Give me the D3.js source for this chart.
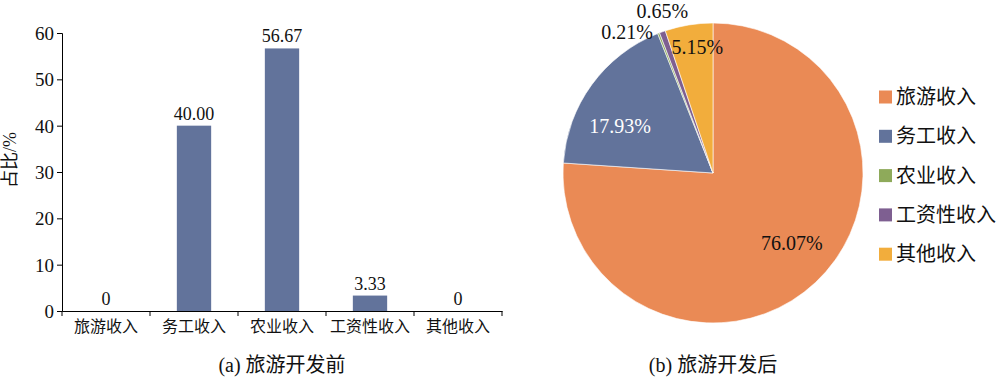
<!DOCTYPE html>
<html>
<head>
<meta charset="utf-8">
<title>旅游开发前后收入结构</title>
<script src="https://cdn.jsdelivr.net/npm/d3@7"></script>
<style>
  body { margin: 0; background: #fff; }
  svg text { font-family: "Liberation Serif", "Noto Sans CJK SC", serif; fill: #111; }
  .cjk { font-family: "Liberation Serif", "Noto Sans CJK SC", sans-serif; }
</style>
</head>
<body>
<div id="chart"></div>
<script>
// categories
var categories = ["旅游收入", "务工收入", "农业收入", "工资性收入", "其他收入"];
// (a) before tourism, %
var beforeValues = [0, 40.00, 56.67, 3.33, 0];
var beforeLabels = ["0", "40.00", "56.67", "3.33", "0"];
// (b) after tourism, %
var afterValues = [76.07, 17.93, 0.21, 0.65, 5.15];
var afterLabels = ["76.07%", "17.93%", "0.21%", "0.65%", "5.15%"];
var yTicks = [0, 10, 20, 30, 40, 50, 60];

var colors = ["#ea8a55", "#62739b", "#8eaa5a", "#7e5f91", "#f2ad3c"];

var w = 1000, h = 377;
var svg = d3.select("#chart").append("svg")
  .attr("width", w).attr("height", h);

// ---- bar chart ----
var x = d3.scaleBand().domain(categories).range([62, 502]).paddingInner(0.61).paddingOuter(0.305);
var xAxisScale = d3.scaleBand().domain(categories).range([62, 502]);
var y = d3.scaleLinear().domain([0, 60]).range([311, 33]);

svg.selectAll(".bar")
  .data(beforeValues)
  .enter().append("rect")
  .attr("class", "bar")
  .attr("x", function(d, i) { return x(categories[i]); })
  .attr("y", function(d) { return y(d); })
  .attr("width", x.bandwidth())
  .attr("height", function(d) { return y(0) - y(d); })
  .attr("fill", colors[1]);

// y axis
var yAxis = svg.append("g").attr("transform", "translate(62,0)")
  .call(d3.axisLeft(y).tickValues(yTicks).tickSize(5).tickPadding(3));
yAxis.selectAll("text").style("font-size", "19px").attr("dy", "0.35em");

// x axis
var xAxis = svg.append("g").attr("transform", "translate(0,311)")
  .call(d3.axisBottom(xAxisScale).tickSize(0).tickPadding(10));
xAxis.selectAll(".tick line").remove();
xAxis.selectAll("text").attr("class", "cjk").style("font-size", "16px");
// boundary ticks
xAxis.selectAll(".sep")
  .data(categories.concat(["end"]))
  .enter().append("line")
  .attr("class", "sep")
  .attr("x1", function(d, i) { return i < categories.length ? xAxisScale(d) : xAxisScale.range()[1]; })
  .attr("x2", function(d, i) { return i < categories.length ? xAxisScale(d) : xAxisScale.range()[1]; })
  .attr("y1", 0).attr("y2", 5)
  .attr("stroke", "#000");
svg.selectAll(".domain").attr("stroke", "#000");
svg.selectAll(".tick line").attr("stroke", "#000");

// value labels
svg.selectAll(".vlabel")
  .data(beforeValues)
  .enter().append("text")
  .attr("class", "vlabel")
  .attr("x", function(d, i) { return xAxisScale(categories[i]) + xAxisScale.bandwidth() / 2; })
  .attr("y", function(d) { return y(d) - 6; })
  .attr("text-anchor", "middle")
  .style("font-size", "18px")
  .text(function(d, i) { return beforeLabels[i]; });

// y title
svg.append("text")
  .attr("class", "cjk")
  .attr("transform", "translate(16,160) rotate(-90)")
  .attr("text-anchor", "middle")
  .style("font-size", "18px")
  .text("占比/%");

// caption a
svg.append("text")
  .attr("class", "cjk")
  .attr("x", 282).attr("y", 372)
  .attr("text-anchor", "middle")
  .style("font-size", "20px")
  .text("(a) 旅游开发前");

// ---- pie chart ----
var cx = 713, cy = 173, R = 150;
var pie = d3.pie().sort(null).value(function(d) { return d; });
var arcs = pie(afterValues);
var arc = d3.arc().innerRadius(0).outerRadius(R);

var pg = svg.append("g").attr("transform", "translate(" + cx + "," + cy + ")");
pg.selectAll("path")
  .data(arcs)
  .enter().append("path")
  .attr("d", arc)
  .attr("fill", function(d, i) { return colors[i]; })
  .attr("stroke", "#fff")
  .attr("stroke-width", 0.6);

// label placement: radius, anchor and nudge per slice
var labelR = [105, 104, 152, 168, 128];
var labelAnchor = ["middle", "middle", "end", "middle", "middle"];
var labelColor = ["#111", "#fff", "#111", "#111", "#111"];
var labelDx = [7, -9, -5, 6, 5];
var labelDy = [-7, 14, 1, -4, 0];
pg.selectAll(".plabel")
  .data(arcs)
  .enter().append("text")
  .attr("class", "plabel")
  .attr("transform", function(d, i) {
    var c = d3.arc().innerRadius(labelR[i]).outerRadius(labelR[i]).centroid(d);
    return "translate(" + (c[0] + labelDx[i]) + "," + (c[1] + labelDy[i]) + ")";
  })
  .attr("dy", "0.35em")
  .attr("text-anchor", function(d, i) { return labelAnchor[i]; })
  .style("font-size", "20px")
  .style("fill", function(d, i) { return labelColor[i]; })
  .text(function(d, i) { return afterLabels[i]; });

// legend
var lg = svg.append("g").attr("transform", "translate(879,97)");
var legRow = lg.selectAll(".leg")
  .data(categories)
  .enter().append("g")
  .attr("class", "leg")
  .attr("transform", function(d, i) { return "translate(0," + (i * 39.3) + ")"; });
legRow.append("rect")
  .attr("x", 0).attr("y", -6.5).attr("width", 13).attr("height", 13)
  .attr("fill", function(d, i) { return colors[i]; });
legRow.append("text")
  .attr("class", "cjk")
  .attr("x", 17).attr("y", 0).attr("dy", "0.35em")
  .style("font-size", "20px")
  .text(function(d) { return d; });

// caption b
svg.append("text")
  .attr("class", "cjk")
  .attr("x", 713).attr("y", 372)
  .attr("text-anchor", "middle")
  .style("font-size", "20px")
  .text("(b) 旅游开发后");
</script>
</body>
</html>
